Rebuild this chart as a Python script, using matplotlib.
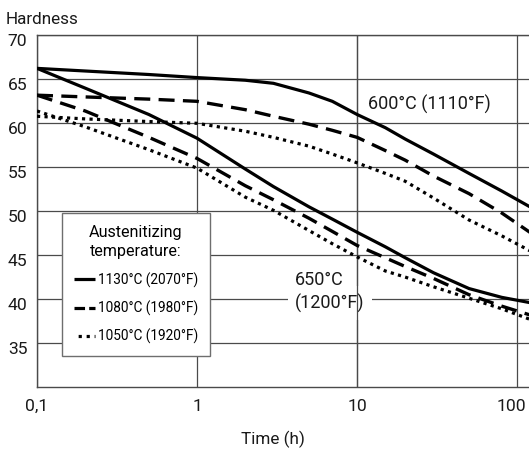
import matplotlib
matplotlib.use("Agg")
import matplotlib.pyplot as plt
from matplotlib.lines import Line2D
from matplotlib.ticker import NullLocator
from matplotlib.transforms import ScaledTranslation

plt.rcParams['font.family'] = ['Roboto', 'DejaVu Sans']

# ---- data ----
time_h = [0.1, 0.2, 0.5, 1, 2, 3, 5, 7, 10, 15, 20, 30, 50, 80, 120]
# tempering at 600 °C (1110 °F)
h600_1130 = [66.25, 65.95, 65.55, 65.2, 64.9, 64.55, 63.45, 62.5, 61.0, 59.5, 58.2, 56.5, 54.3, 52.3, 50.5]
h600_1080 = [63.2, 63.0, 62.75, 62.5, 61.55, 60.8, 59.9, 59.2, 58.4, 56.9, 55.8, 54.0, 52.0, 49.8, 47.6]
h600_1050 = [60.8, 60.5, 60.2, 60.0, 59.1, 58.4, 57.4, 56.5, 55.5, 54.3, 53.4, 51.5, 49.0, 47.2, 45.5]
# tempering at 650 °C (1200 °F)
h650_1130 = [66.25, 64.0, 61.0, 58.3, 54.8, 52.8, 50.5, 49.1, 47.6, 45.95, 44.7, 43.0, 41.2, 40.2, 39.6]
h650_1080 = [63.2, 61.4, 58.4, 56.0, 52.9, 51.3, 49.2, 47.7, 46.1, 44.7, 43.7, 42.35, 40.5, 39.2, 38.2]
h650_1050 = [61.4, 59.6, 57.0, 54.9, 51.6, 50.1, 47.8, 46.3, 44.8, 43.2, 42.5, 41.4, 40.1, 38.9, 37.7]

legend_labels = ["1130°C (2070°F)", "1080°C (1980°F)", "1050°C (1920°F)"]
legend_title = "Austenitizing\ntemperature:"
label_600 = "600°C (1110°F)"
label_650_a = "650°C"
label_650_b = "(1200°F)"
x_ticks = [0.1, 1, 10, 100]
x_tick_labels = ["0,1", "1", "10", "100"]
y_ticks = [35, 40, 45, 50, 55, 60, 65, 70]
y_tick_labels = ["35", "40", "45", "50", "55", "60", "65", "70"]

# ---- styling ----
W, H = 529, 450
fig = plt.figure(figsize=(W / 100, H / 100), dpi=100)
ax = fig.add_axes([37 / W, 63 / H, 492 / W, 351.6 / H])

grid_col = '#4a4a4a'
styles = {
    'solid': dict(ls='-', lw=2.3, solid_capstyle='butt'),
    'dashed': dict(ls=(0, (4.8, 2.5)), lw=2.4, dash_capstyle='butt'),
    'dotted': dict(ls=(0, (1.0, 1.35)), lw=2.3, dash_capstyle='butt'),
}

for series, st in [(h600_1130, 'solid'), (h600_1080, 'dashed'), (h600_1050, 'dotted'),
                   (h650_1130, 'solid'), (h650_1080, 'dashed'), (h650_1050, 'dotted')]:
    ax.plot(time_h, series, color='black', zorder=3, **styles[st])

ax.set_xscale('log')
ax.set_xlim(0.1, 118.5)
ax.set_ylim(30, 70)
ax.set_xticks(x_ticks)
ax.set_xticklabels(x_tick_labels)
ax.xaxis.set_minor_locator(NullLocator())
ax.set_yticks(y_ticks)
ax.set_yticklabels(y_tick_labels)

ax.set_axisbelow(True)
ax.grid(True, which='major', color=grid_col, lw=0.9)
for side in ['left', 'bottom', 'top']:
    ax.spines[side].set_color(grid_col)
    ax.spines[side].set_linewidth(1.0)
ax.spines['right'].set_visible(False)

ax.tick_params(axis='both', length=0, labelsize=12.6, colors='#1a1a1a')
ax.tick_params(axis='x', pad=8.4)
ax.tick_params(axis='y', pad=7.0)

# hand-drawn look: y labels sit slightly under their grid lines
for lbl in ax.get_yticklabels():
    lbl.set_transform(lbl.get_transform() + ScaledTranslation(0, -0.05, fig.dpi_scale_trans))
last = ax.get_xticklabels()[-1]
last.set_transform(last.get_transform() + ScaledTranslation(-0.06, 0, fig.dpi_scale_trans))

# curve group labels
ax.text((368 - 37) / 492, (387 - 110) / 351.6, label_600, transform=ax.transAxes,
        fontsize=13, va='baseline', ha='left', color='#1a1a1a', zorder=4)
ax.text((295 - 37) / 492, (387 - 285) / 351.6, label_650_a, transform=ax.transAxes,
        fontsize=13, va='baseline', ha='left', color='#1a1a1a', zorder=4)
ax.text((295 - 37) / 492, (387 - 308.3) / 351.6, label_650_b, transform=ax.transAxes,
        fontsize=13, va='baseline', ha='left', color='#1a1a1a', zorder=2,
        bbox=dict(facecolor='white', edgecolor='none', boxstyle='square,pad=0.4'))
ax.axvline(10, color=grid_col, lw=0.9, zorder=2.5)

# legend
handles = [
    Line2D([], [], color='black', lw=2.3, ls='-', solid_capstyle='butt'),
    Line2D([], [], color='black', lw=2.3, ls=(0, (3.3, 1.3)), dash_capstyle='butt'),
    Line2D([], [], color='black', lw=2.3, ls=(1.2, (1.0, 1.5)), dash_capstyle='butt'),
]
leg = ax.legend(handles, legend_labels, title=legend_title, loc='upper left',
                bbox_to_anchor=(62 / W, 1 - 213 / H), bbox_transform=fig.transFigure,
                borderaxespad=0, frameon=True, fancybox=False, edgecolor='#6e6e6e',
                framealpha=1, fontsize=9.8, title_fontsize=11.6, handlelength=1.6,
                handletextpad=0.2, labelspacing=0.95, borderpad=0.85)
leg.get_frame().set_linewidth(1.0)
leg.get_title().set_linespacing(1.39)
leg.get_title().set_multialignment('center')
leg.set_zorder(5)

fig.text(6 / W, 1 - 24.5 / H, "Hardness", fontsize=12.3, ha='left', va='baseline', color='#1a1a1a')
fig.text(273 / W, 6 / H, "Time (h)", fontsize=12.3, ha='center', va='baseline', color='#1a1a1a')

fig.savefig("out.png", dpi=100)
